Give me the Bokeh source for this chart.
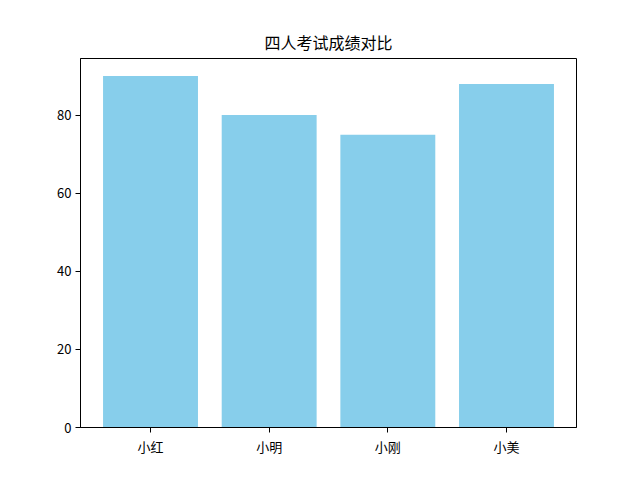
from bokeh.plotting import figure
from bokeh.models import Range1d, FixedTicker, ColumnDataSource
from bokeh.embed import file_html
from bokeh.resources import INLINE

names = ["小红", "小明", "小刚", "小美"]
scores = [90, 80, 75, 88]
y_ticks = [0, 20, 40, 60, 80]

xs = list(range(len(names)))
src = ColumnDataSource(dict(x=xs, top=scores))

FONT = "Noto Sans CJK SC"

p = figure(width=640, height=480, output_backend="svg", toolbar_location=None,
           x_range=Range1d(-0.59, 3.59), y_range=Range1d(0, 94.5),
           title="四人考试成绩对比")
p.min_border_left = 80
p.min_border_right = 64
p.min_border_top = 58
p.min_border_bottom = 53

p.vbar(x="x", top="top", bottom=0, width=0.8, source=src,
       fill_color="#87CEEB", line_color=None)

p.title.align = "center"
p.title.text_font = FONT
p.title.text_font_size = "16px"
p.title.text_font_style = "normal"
p.title.text_color = "black"

p.xgrid.visible = False
p.ygrid.visible = False
p.outline_line_color = "black"
p.outline_line_width = 1
p.outline_line_alpha = 1

p.xaxis.ticker = FixedTicker(ticks=xs)
p.xaxis.major_label_overrides = {i: n for i, n in enumerate(names)}
p.yaxis.ticker = FixedTicker(ticks=y_ticks)

for ax in (p.xaxis[0], p.yaxis[0]):
    ax.major_label_text_font = FONT
    ax.major_label_text_font_size = "13px"
    ax.major_label_text_color = "black"
    ax.axis_line_color = "black"
    ax.major_tick_line_color = "black"
    ax.major_tick_out = 5
    ax.major_tick_in = 0
    ax.minor_tick_line_color = None
    ax.major_label_standoff = 4

p.background_fill_color = "white"
p.border_fill_color = "white"

open("out.html", "w").write(file_html(p, INLINE))
